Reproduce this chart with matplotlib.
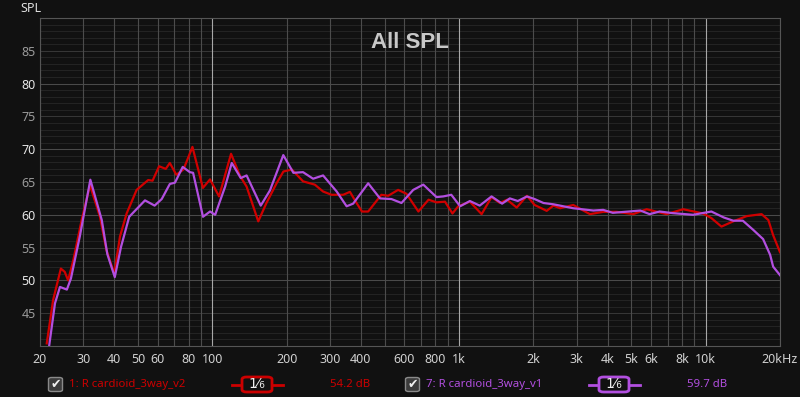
import matplotlib
matplotlib.use("Agg")
import matplotlib.pyplot as plt
from matplotlib.patches import FancyBboxPatch
from matplotlib.lines import Line2D
from matplotlib.ticker import NullLocator, FixedLocator

# --- data (Hz, dB) ---
v2_freq = [21.3, 22.6, 24.3, 25.2, 26.0, 27.3, 29.5, 31.9, 35.0, 37.2, 40.0, 42.2,
           44.9, 49.3, 54.9, 57.2, 60.8, 64.7, 67.2, 71.4, 76.3, 83.0, 91.5, 97.8,
           106.4, 119, 129.5, 137.6, 153.4, 165.6, 182, 194, 210, 233, 260, 281,
           304, 339, 361, 384, 404, 428, 484, 516, 566, 612, 684, 752, 810, 877,
           940, 992, 1106, 1234, 1354, 1464, 1566, 1712, 1884, 2024, 2266, 2412,
           2568, 2903, 3392, 3840, 4358, 5080, 5760, 6940, 8100, 9760, 10540,
           11580, 12920, 14660, 16840, 17940, 18760, 20000]
v2_spl = [40.4, 47.0, 51.8, 51.3, 50.0, 53.1, 59.2, 64.5, 59.7, 54.6, 51.05, 56.7,
          60.2, 63.8, 65.3, 65.2, 67.4, 67.0, 67.9, 66.1, 66.9, 70.35, 64.1, 65.4,
          62.8, 69.3, 65.9, 64.3, 59.0, 61.8, 64.8, 66.6, 66.9, 65.1, 64.6, 63.55,
          63.05, 63.05, 63.5, 61.8, 60.5, 60.5, 63.05, 62.9, 63.8, 63.2, 60.5, 62.3,
          61.9, 62.0, 60.2, 61.3, 62.0, 60.1, 62.7, 61.8, 62.3, 61.1, 62.9, 61.5,
          60.6, 61.4, 61.0, 61.5, 60.1, 60.45, 60.45, 60.1, 60.85, 60.1, 60.85,
          60.2, 59.5, 58.2, 59.0, 59.8, 60.1, 59.2, 56.9, 54.3]

v1_freq = [21.8, 23.0, 24.1, 25.7, 26.7, 29.0, 32.0, 35.6, 37.5, 40.2, 42.6, 46.0,
           53.3, 58.3, 62.3, 67.2, 70.5, 75.8, 81, 83.5, 91.6, 97.8, 102.6, 112.6,
           119.8, 130.3, 137.6, 157, 171, 193.8, 213, 233, 256, 281, 319, 350, 372,
           428, 478, 532, 584, 652, 716, 810, 862, 930, 1010, 1106, 1212, 1354,
           1494, 1606, 1730, 1884, 2024, 2198, 2412, 2903, 3504, 3840, 4200, 5432,
           5920, 6500, 7360, 8880, 10540, 11820, 12920, 14140, 15580, 17080, 18240,
           18760, 20000]
v1_spl = [40.1, 46.5, 49.0, 48.6, 50.3, 56.7, 65.35, 59.2, 54.0, 50.5, 55.1, 59.7,
          62.2, 61.4, 62.4, 64.7, 64.9, 67.3, 66.5, 66.4, 59.7, 60.5, 60.0, 64.3,
          67.9, 65.6, 66.0, 61.4, 63.7, 69.1, 66.4, 66.5, 65.5, 66.0, 63.55, 61.3,
          61.7, 64.8, 62.5, 62.4, 61.8, 63.8, 64.6, 62.7, 62.8, 63.05, 61.3, 62.1,
          61.4, 62.8, 61.7, 62.5, 62.1, 62.8, 62.4, 61.8, 61.6, 61.0, 60.65, 60.75,
          60.3, 60.65, 60.1, 60.5, 60.25, 60.0, 60.5, 59.6, 59.1, 59.1, 57.7, 56.3,
          53.9, 52.1, 50.8]

x_ticks = [20, 30, 40, 50, 60, 70, 80, 90, 100, 200, 300, 400, 500, 600, 700, 800,
           900, 1000, 2000, 3000, 4000, 5000, 6000, 7000, 8000, 9000, 10000, 20000]
x_labels = ["20", "30", "40", "50", "60", "", "80", "", "100", "200", "300", "400",
            "", "600", "", "800", "", "1k", "2k", "3k", "4k", "5k", "6k", "", "8k",
            "", "10k", "20kHz"]
y_ticks = [45, 50, 55, 60, 65, 70, 75, 80, 85]

series_names = ["1: R cardioid_3way_v2", "7: R cardioid_3way_v1"]
series_levels = ["54.2 dB", "59.7 dB"]

RED = "#d00000"
PURPLE = "#b24fe0"
BG = "#111111"

plt.rcParams["font.family"] = ["Noto Sans", "DejaVu Sans"]

fig = plt.figure(figsize=(8, 3.97), dpi=100, facecolor=BG)
W, H = 800, 397
ax = fig.add_axes([40 / W, 1 - 346 / H, 740 / W, 328 / H], facecolor=BG)

ax.set_xscale("log")
ax.set_xlim(20, 20000)
ax.set_ylim(40, 90)

# grid
for y in range(41, 90):
    if y % 10 == 0:
        c = "#4a4a4a"
    elif y % 5 == 0:
        c = "#363636"
    else:
        c = "#232323"
    ax.axhline(y, color=c, lw=0.75, zorder=1)
for x in x_ticks:
    c = "#a8a8a8" if x in (100, 1000, 10000) else "#4c4c4c"
    ax.axvline(x, color=c, lw=0.8, zorder=1)

ax.plot(v2_freq, v2_spl, color=RED, lw=1.6, zorder=3)
ax.plot(v1_freq, v1_spl, color=PURPLE, lw=1.6, zorder=3)

ax.xaxis.set_major_locator(FixedLocator(x_ticks))
ax.xaxis.set_minor_locator(NullLocator())
ax.set_xticklabels(x_labels)
ax.set_yticks(y_ticks)
ax.set_yticklabels([str(v) for v in y_ticks])
ax.tick_params(length=0, labelsize=9, colors="#d0d0d0", pad=5)
ax.tick_params(axis="y", pad=3)
for lab, v in zip(ax.get_yticklabels(), y_ticks):
    lab.set_color("#e6e6e6" if v % 10 == 0 else "#9a9a9a")
for s in ax.spines.values():
    s.set_color("#555555")

fig.text(20 / W, 1 - 8 / H, "SPL", color="#dddddd", fontsize=9, va="center", ha="left")
ax.text(0.5, 0.925, "All SPL", transform=ax.transAxes, ha="center", va="center",
        fontsize=16, fontweight="bold", color="#c8c8c8", zorder=4,
        family="Liberation Sans")


def px(x, y):
    return x / W, 1 - y / H


def legend_entry(x0, name, level, color, box_x, lvl_x):
    cy = 384.5
    # checkbox
    bx, by = px(48.5 + x0, cy + 7)
    fig.patches.append(FancyBboxPatch((bx, by), 14 / W, 14 / H,
                       boxstyle="round,pad=0,rounding_size=0.004",
                       transform=fig.transFigure, fc="#3c3c3c", ec="#8a8a8a", lw=1))
    fig.text(*px(55.5 + x0, cy), "\u2714", color="#f0f0f0", fontsize=9,
             ha="center", va="center", family="DejaVu Sans")
    fig.text(*px(69 + x0, cy), name, color=color, fontsize=8.2, ha="left", va="center")
    # line + fraction box
    fig.add_artist(Line2D([(box_x - 10) / W, (box_x + 41) / W], [1 - cy / H] * 2,
                          color=color, lw=2, transform=fig.transFigure))
    fig.patches.append(FancyBboxPatch(((box_x) / W, 1 - (cy + 7.5) / H), 30 / W, 15 / H,
                       boxstyle="round,pad=0,rounding_size=0.006",
                       transform=fig.transFigure, fc=BG, ec=color, lw=2, zorder=5))
    fig.text(*px(box_x + 15, cy), "1\u2044\u2086", color="#f0f0f0", fontsize=10,
             ha="center", va="center", family="DejaVu Sans", zorder=6)
    fig.text(*px(lvl_x, cy), level, color=color, fontsize=8.2, ha="left", va="center")


legend_entry(0, series_names[0], series_levels[0], "#cc0000", 242, 330)
legend_entry(357, series_names[1], series_levels[1], PURPLE, 599, 687)

fig.savefig("out.png", dpi=100, facecolor=BG)
